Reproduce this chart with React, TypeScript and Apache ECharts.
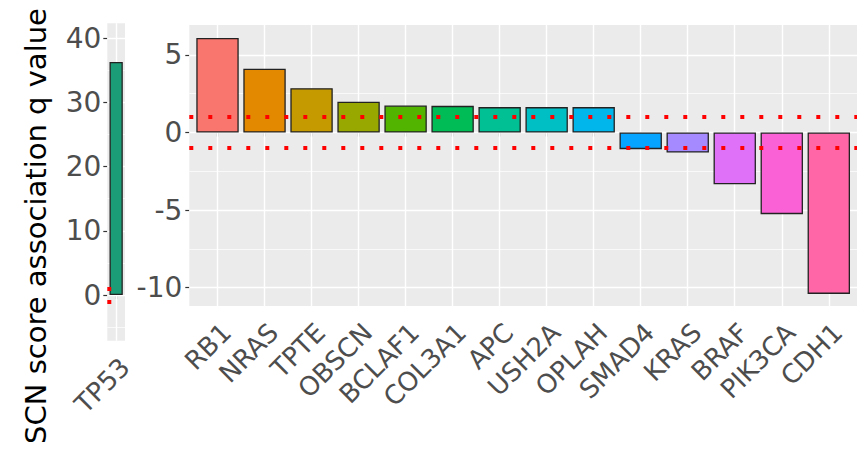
import React, { useEffect, useRef } from "react";
import * as echarts from "echarts";

// ---- data ----
const leftGenes = ["TP53"];
const leftValues = [36.3];
const leftColors = ["#1B9E77"];

const genes = ["RB1", "NRAS", "TPTE", "OBSCN", "BCLAF1", "COL3A1", "APC", "USH2A", "OPLAH", "SMAD4", "KRAS", "BRAF", "PIK3CA", "CDH1"];
const values = [6.09, 4.11, 2.86, 1.98, 1.74, 1.72, 1.64, 1.64, 1.64, -1.07, -1.29, -3.33, -5.26, -10.4];
const colors = ["#F8766D", "#E38900", "#C49A00", "#99A800", "#53B400", "#00BC56", "#00C094", "#00BFC4", "#00B6EB", "#06A4FF", "#A58AFF", "#DF70F8", "#FB61D7", "#FF66A8"];

const thresholds = [1, -1];
const leftMajor = [0, 10, 20, 30, 40];
const leftMinor = [-5, 5, 15, 25, 35];
const rightMajor = [-10, -5, 0, 5];
const rightMinor = [-7.5, -2.5, 2.5];
const yTitle = "SCN score association q value";

const FONT = "DejaVu Sans";

// panel layout (px)
const LEFT_PANEL = { left: 107.3, top: 23.3, width: 17.7, height: 317.4 };
const RIGHT_PANEL = { left: 189.3, top: 25, width: 667.7, height: 281 };
// rotated tick labels sit to the lower right of their ticks
const LABEL_DX = 9;
const LABEL_DY = 20;

function gridLineSeries(idx: number, positions: number[], major: number[], minor: number[]) {
  const data: any[] = [];
  major.forEach((v) => data.push({ yAxis: v, lineStyle: { width: 1.4 } }));
  minor.forEach((v) => data.push({ yAxis: v, lineStyle: { width: 0.7 } }));
  positions.forEach((p) => data.push({ xAxis: p, lineStyle: { width: 1.4 } }));
  return {
    type: "scatter",
    xAxisIndex: idx,
    yAxisIndex: idx,
    data: [],
    z: 1,
    silent: true,
    markLine: {
      silent: true,
      z: 1,
      symbol: ["none", "none"],
      label: { show: false },
      lineStyle: { color: "#FFFFFF", type: "solid" },
      emphasis: { disabled: true },
      data,
    },
  };
}

function thresholdSeries(idx: number) {
  return {
    type: "scatter",
    xAxisIndex: idx,
    yAxisIndex: idx,
    data: [],
    z: 10,
    silent: true,
    markLine: {
      silent: true,
      z: 10,
      symbol: ["none", "none"],
      label: { show: false },
      emphasis: { disabled: true },
      lineStyle: { color: "#FF0000", width: 4, type: [4, 15], cap: "butt" },
      data: thresholds.map((t) => ({ yAxis: t })),
    },
  };
}

function xTickAxis(idx: number, names: string[], min: number, max: number) {
  const ticks = names.map((_, i) => i + 1);
  return {
    type: "value",
    gridIndex: idx,
    min,
    max,
    splitLine: { show: false },
    axisLine: { show: false },
    axisTick: { show: true, length: 4, lineStyle: { color: "#333333", width: 1.2 }, customValues: ticks },
    axisLabel: { show: false },
  };
}

function xLabelAxis(idx: number, names: string[], min: number, max: number) {
  const ticks = names.map((_, i) => i + 1);
  return {
    type: "value",
    gridIndex: idx,
    min,
    max,
    splitLine: { show: false },
    axisLine: { show: false },
    axisTick: { show: false },
    axisLabel: {
      customValues: ticks,
      formatter: (v: number) => names[Math.round(v) - 1] ?? "",
      rotate: 45,
      margin: 2,
      hideOverlap: false,
      color: "#4D4D4D",
      fontFamily: FONT,
      fontSize: 26,
    },
  };
}

function yAxisCfg(idx: number, min: number, max: number, ticks: number[], margin: number) {
  return {
    type: "value",
    gridIndex: idx,
    min,
    max,
    splitLine: { show: false },
    axisLine: { show: false },
    axisTick: { show: true, length: 4, lineStyle: { color: "#333333", width: 1.2 }, customValues: ticks },
    axisLabel: {
      customValues: ticks,
      margin,
      color: "#4D4D4D",
      fontFamily: FONT,
      fontSize: 28,
      formatter: (v: number) => String(v),
    },
  };
}

function hiddenY(idx: number) {
  return { type: "value", gridIndex: idx, min: 0, max: 1, show: false };
}

function shifted(p: { left: number; top: number; width: number; height: number }) {
  return { left: p.left + LABEL_DX, top: p.top + LABEL_DY, width: p.width, height: p.height, show: false, outerBoundsMode: "none", containLabel: false };
}

export default function App() {
  const ref = useRef<HTMLDivElement>(null);
  useEffect(() => {
    if (!ref.current) return;
    const chart = echarts.init(ref.current, undefined, { renderer: "svg" });
    const option: any = {
      animation: false,
      backgroundColor: "#FFFFFF",
      grid: [
        { ...LEFT_PANEL, show: true, backgroundColor: "#EBEBEB", borderWidth: 0, containLabel: false, outerBoundsMode: "none" },
        { ...RIGHT_PANEL, show: true, backgroundColor: "#EBEBEB", borderWidth: 0, containLabel: false, outerBoundsMode: "none" },
        shifted(LEFT_PANEL),
        shifted(RIGHT_PANEL),
      ],
      xAxis: [
        xTickAxis(0, leftGenes, 0.4, 1.6),
        xTickAxis(1, genes, 0.4, 14.6),
        xLabelAxis(2, leftGenes, 0.4, 1.6),
        xLabelAxis(3, genes, 0.4, 14.6),
      ],
      yAxis: [
        yAxisCfg(0, -7.12, 42.34, leftMajor, 6),
        yAxisCfg(1, -11.18, 6.93, rightMajor, 7),
        hiddenY(2),
        hiddenY(3),
      ],
      graphic: [
        {
          type: "text",
          x: 36,
          y: 226,
          rotation: Math.PI / 2,
          style: {
            text: yTitle,
            fill: "#000000",
            font: `29px "${FONT}"`,
            align: "center",
            verticalAlign: "middle",
          },
        },
      ],
      series: [
        gridLineSeries(0, leftGenes.map((_, i) => i + 1), leftMajor, leftMinor),
        gridLineSeries(1, genes.map((_, i) => i + 1), rightMajor, rightMinor),
        {
          type: "bar",
          xAxisIndex: 0,
          yAxisIndex: 0,
          barWidth: 13.3,
          z: 3,
          data: leftValues.map((v, i) => ({ value: [i + 1, v], itemStyle: { color: leftColors[i] } })),
          itemStyle: { borderColor: "#222222", borderWidth: 1.3 },
        },
        {
          type: "bar",
          xAxisIndex: 1,
          yAxisIndex: 1,
          barWidth: 42.4,
          z: 3,
          data: values.map((v, i) => ({ value: [i + 1, v], itemStyle: { color: colors[i] } })),
          itemStyle: { borderColor: "#222222", borderWidth: 1.3 },
        },
        thresholdSeries(0),
        thresholdSeries(1),
      ],
    };
    chart.setOption(option);
    return () => chart.dispose();
  }, []);
  return <div ref={ref} style={{ position: "fixed", left: 0, top: 0, width: 857, height: 456 }} />;
}
